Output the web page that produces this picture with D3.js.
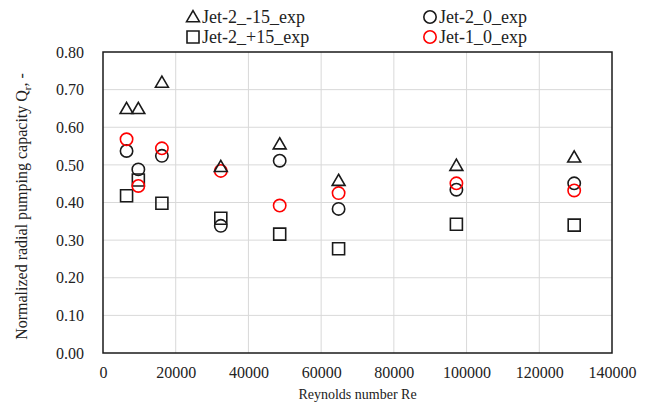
<!DOCTYPE html>
<html lang="en">
<head>
<meta charset="utf-8">
<title>Radial pumping capacity</title>
<script src="https://d3js.org/d3.v7.min.js"></script>
<style>
  body { margin: 0; background: #fff; }
  svg text { font-family: "Liberation Serif", "DejaVu Serif", serif !important; fill: #222; }
</style>
</head>
<body>
<div id="chart"></div>
<script>
// Reynolds numbers of the experiments
var reynolds = [6480, 9720, 16200, 32400, 48600, 64800, 97200, 129600];

// normalized radial pumping capacity per configuration
var jet2m15 = [0.649, 0.649, 0.719, 0.495, 0.555, 0.458, 0.498, 0.520];
var jet2p15 = [0.418, 0.460, 0.398, 0.358, 0.316, 0.277, 0.342, 0.340];
var jet2z = [0.537, 0.488, 0.524, 0.338, 0.511, 0.383, 0.434, 0.451];
var jet1z = [0.568, 0.444, 0.544, 0.484, 0.392, 0.425, 0.451, 0.432];

var xTicks = [0, 20000, 40000, 60000, 80000, 100000, 120000, 140000];
var yTicks = [0, 0.1, 0.2, 0.3, 0.4, 0.5, 0.6, 0.7, 0.8];

var series = [
  {name: "Jet-2_-15_exp", values: jet2m15, shape: "triangle", color: "#1a1a1a"},
  {name: "Jet-2_0_exp", values: jet2z, shape: "circle", color: "#1a1a1a"},
  {name: "Jet-2_+15_exp", values: jet2p15, shape: "square", color: "#1a1a1a"},
  {name: "Jet-1_0_exp", values: jet1z, shape: "circle", color: "#ff0000"}
];

var width = 657, height = 405;
var margin = {top: 52, right: 45, bottom: 52, left: 103};

var svg = d3.select("#chart").append("svg")
  .attr("width", width)
  .attr("height", height);

var x = d3.scaleLinear().domain([0, 140000]).range([margin.left, width - margin.right]);
var y = d3.scaleLinear().domain([0, 0.8]).range([height - margin.bottom, margin.top]);

// gridlines
svg.append("g").selectAll("line.gx")
  .data(xTicks.slice(1, -1))
  .enter().append("line")
  .attr("x1", d => x(d)).attr("x2", d => x(d))
  .attr("y1", y(0)).attr("y2", y(0.8))
  .attr("stroke", "#d9d9d9").attr("stroke-width", 1);

svg.append("g").selectAll("line.gy")
  .data(yTicks.slice(1, -1))
  .enter().append("line")
  .attr("x1", x(0)).attr("x2", x(140000))
  .attr("y1", d => y(d)).attr("y2", d => y(d))
  .attr("stroke", "#d9d9d9").attr("stroke-width", 1);

// frame
svg.append("rect")
  .attr("x", x(0)).attr("y", y(0.8))
  .attr("width", x(140000) - x(0))
  .attr("height", y(0) - y(0.8))
  .attr("fill", "none")
  .attr("stroke", "#1a1a1a")
  .attr("stroke-width", 1.5);

// axes (labels only, the frame draws the lines)
var xAxis = svg.append("g")
  .attr("transform", `translate(0, ${y(0)})`)
  .call(d3.axisBottom(x).tickValues(xTicks).tickFormat(d3.format("d")).tickSize(0).tickPadding(14));
xAxis.attr("font-family", null);
xAxis.select(".domain").remove();
xAxis.selectAll("text").style("font-size", "16px");

var yAxis = svg.append("g")
  .attr("transform", `translate(${x(0)}, 0)`)
  .call(d3.axisLeft(y).tickValues(yTicks).tickFormat(d3.format(".2f")).tickSize(0).tickPadding(19));
yAxis.attr("font-family", null);
yAxis.select(".domain").remove();
yAxis.selectAll("text").style("font-size", "16px");

// axis titles
svg.append("text")
  .attr("x", (x(0) + x(140000)) / 2)
  .attr("y", 399)
  .attr("text-anchor", "middle")
  .style("font-size", "14px")
  .text("Reynolds number Re");

var ytitle = svg.append("text")
  .attr("transform", `translate(27, ${(y(0) + y(0.8)) / 2 + 4}) rotate(-90)`)
  .attr("text-anchor", "middle")
  .style("font-size", "16px");
ytitle.append("tspan").text("Normalized radial pumping capacity Q");
ytitle.append("tspan").style("font-size", "11px").attr("dy", 4).text("r");
ytitle.append("tspan").attr("dy", -4).text(", -");

// markers
var symbolFor = {
  triangle: d3.symbol().type(d3.symbolTriangle).size(72),
  square: d3.symbol().type(d3.symbolSquare).size(144),
  circle: d3.symbol().type(d3.symbolCircle).size(120)
};

function drawMarker(g, shape, cx, cy, color) {
  g.append("path")
    .attr("d", symbolFor[shape]())
    .attr("transform", `translate(${cx}, ${cy + (shape === "triangle" ? 1 : 0)})`)
    .attr("fill", "none")
    .attr("stroke", color)
    .attr("stroke-width", 1.6);
}

// draw order: squares, black circles, red circles, triangles
[2, 1, 3, 0].forEach(function(i) {
  var s = series[i];
  var g = svg.append("g");
  s.values.forEach(function(v, j) {
    drawMarker(g, s.shape, x(reynolds[j]), y(v), s.color);
  });
});

// legend
var legendItems = [
  {s: series[0], lx: 193, ly: 17},
  {s: series[2], lx: 193, ly: 37},
  {s: series[1], lx: 430, ly: 17},
  {s: series[3], lx: 430, ly: 37}
];
legendItems.forEach(function(it) {
  var g = svg.append("g");
  drawMarker(g, it.s.shape, it.lx, it.ly, it.s.color);
  g.append("text")
    .attr("x", it.lx + 9)
    .attr("y", it.ly + 6)
    .style("font-size", "18px")
    .text(it.s.name);
});
</script>
</body>
</html>
